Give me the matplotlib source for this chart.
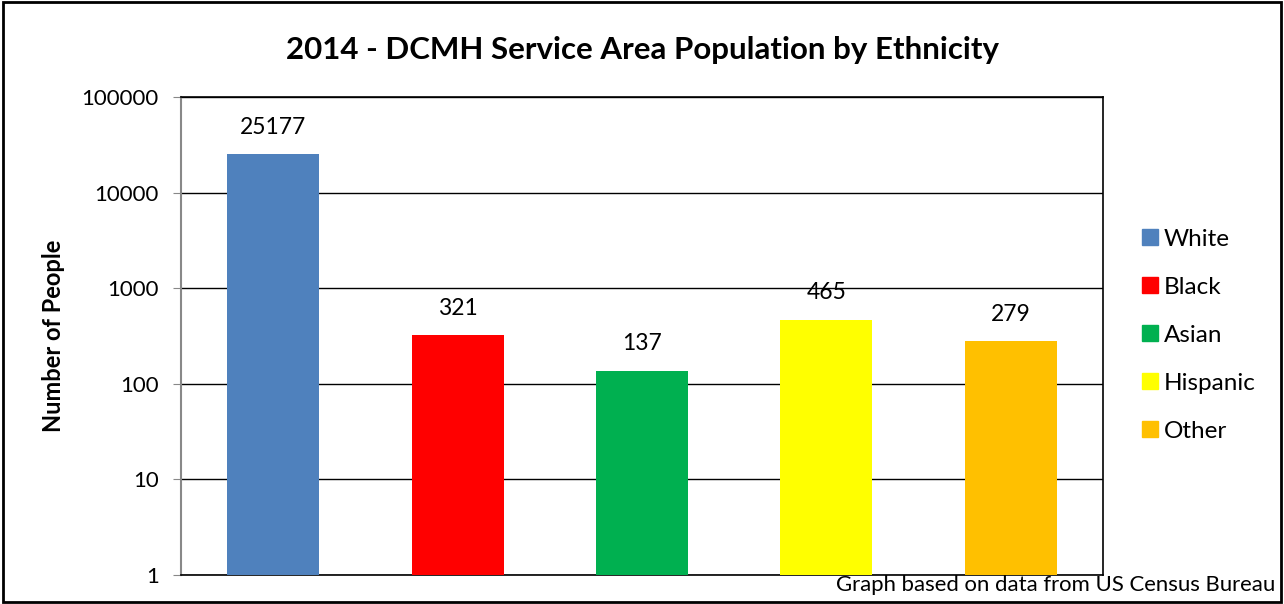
import matplotlib.pyplot as plt
from matplotlib.patches import Rectangle
from matplotlib.lines import Line2D
import numpy as np

plt.rcParams['font.family'] = ['Lato', 'DejaVu Sans']

categories = ["White", "Black", "Asian", "Hispanic", "Other"]
values = [25177, 321, 137, 465, 279]
colors = ["#4f81bd", "#ff0000", "#00b050", "#ffff00", "#ffc000"]

fig = plt.figure(figsize=(12.84, 6.04), dpi=100)
ax = fig.add_axes([0.141, 0.048, 0.718, 0.7914])

x = np.arange(len(categories))
bars = ax.bar(x, values, width=0.5, color=colors, zorder=3)
ax.set_yscale('log')
ax.set_ylim(1, 100000)
ax.set_xlim(-0.5, len(categories) - 0.5)
ax.set_yticks([1, 10, 100, 1000, 10000, 100000])
ax.set_yticklabels(["1", "10", "100", "1000", "10000", "100000"], fontsize=16)
ax.minorticks_off()
ax.set_xticks([])
ax.yaxis.grid(True, color='black', linewidth=1, zorder=0)
ax.tick_params(axis='y', length=6, color='#888888', pad=10)
ax.spines['left'].set_color('#888888')
ax.spines['left'].set_linewidth(1.5)
for s in ['top', 'right', 'bottom']:
    ax.spines[s].set_color('black')
    ax.spines[s].set_linewidth(1.2)

for rect, v in zip(bars, values):
    ax.annotate(f'{v}', xy=(rect.get_x() + rect.get_width() / 2, v),
                xytext=(0, 12), textcoords="offset points",
                ha='center', va='bottom', fontsize=16.5)

ax.set_ylabel('Number of People', fontsize=17, fontweight='bold', labelpad=12)
fig.text(0.5, 0.917, '2014 - DCMH Service Area Population by Ethnicity',
         ha='center', va='center', fontsize=22.5, fontweight='bold')

handles = [Line2D([0], [0], marker='s', linestyle='none', markersize=11,
                  markerfacecolor=c, markeredgecolor=c) for c in colors]
fig.legend(handles, categories, loc='center left', bbox_to_anchor=(0.878, 0.445),
           frameon=False, fontsize=17.5, labelspacing=1.11, handletextpad=0.1,
           handlelength=0.9, borderpad=0)

fig.text(0.9935, 0.032, 'Graph based on data from US Census Bureau',
         ha='right', va='center', fontsize=15.9)

fig.patches.append(Rectangle((0.002, 0.003), 0.996, 0.994, transform=fig.transFigure,
                             fill=False, edgecolor='black', linewidth=2))

plt.savefig('out.png', dpi=100)
